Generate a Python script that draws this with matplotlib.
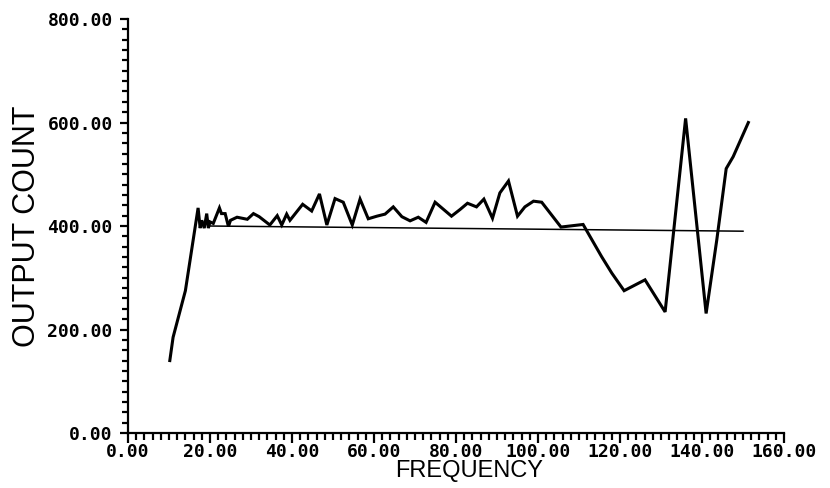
import numpy as np
import matplotlib
matplotlib.use('Agg')
import matplotlib.pyplot as plt
from matplotlib.ticker import MultipleLocator, FormatStrFormatter

freq = [10.2, 11.0, 14.0, 17.1, 17.6, 18.0, 18.6, 19.2, 19.6, 20.0, 20.8, 22.3, 22.8,
        23.7, 24.5, 25.0, 26.6, 29.1, 30.6, 32.0, 34.6, 36.4, 37.5, 38.7, 39.5,
        42.6, 44.8, 46.7, 48.5, 50.5, 52.5, 54.7, 56.6, 58.6, 60.7, 62.7, 64.7,
        66.8, 68.8, 70.8, 72.7, 74.9, 78.9, 81.0, 82.8, 85.0, 86.8, 88.9, 90.7,
        92.8, 95.0, 96.8, 98.9, 100.9, 105.6, 111.0, 115.5, 118.0, 121.0, 126.1,
        131.0, 136.0, 141.0, 143.6, 145.9, 147.6, 151.3]
count = [140, 185, 275, 435, 396, 411, 396, 424, 396, 408, 405, 435, 424,
         424, 399, 411, 417, 413, 424, 418, 402, 420, 402, 423, 411,
         442, 429, 462, 402, 453, 446, 402, 452, 414, 419, 423, 437,
         418, 410, 417, 407, 446, 419, 432, 444, 437, 452, 415, 464,
         487, 419, 437, 448, 446, 398, 403, 341, 309, 275, 296,
         234, 608, 231, 373, 511, 534, 600]

# reference level line
ref_freq = [20.0, 150.0]
ref_count = [400, 390]

fig = plt.figure(figsize=(8.3, 4.88), dpi=100)
ax = fig.add_axes([0.1542, 0.1127, 0.7904, 0.8483])

ax.plot(freq, count, color='black', lw=2.2, solid_joinstyle='miter')
ax.plot(ref_freq, ref_count, color='black', lw=1.1)

ax.set_xlim(0, 160)
ax.set_ylim(0, 800)
ax.spines['top'].set_visible(False)
ax.spines['right'].set_visible(False)
ax.spines['left'].set_linewidth(1.6)
ax.spines['bottom'].set_linewidth(1.6)

ax.xaxis.set_major_locator(MultipleLocator(20))
ax.xaxis.set_minor_locator(MultipleLocator(2))
ax.yaxis.set_major_locator(MultipleLocator(200))
ax.yaxis.set_minor_locator(MultipleLocator(20))
ax.xaxis.set_major_formatter(FormatStrFormatter('%.2f'))
ax.yaxis.set_major_formatter(FormatStrFormatter('%.2f'))

ax.tick_params(axis='x', which='major', direction='out', length=7, width=1.6, pad=0)
ax.tick_params(axis='x', which='minor', direction='out', length=5, width=1.6)
ax.tick_params(axis='y', which='major', direction='out', length=6, width=1.6, pad=5)
ax.tick_params(axis='y', which='minor', direction='out', length=4, width=1.6)

for lab in ax.get_xticklabels() + ax.get_yticklabels():
    lab.set_fontfamily('DejaVu Sans Mono')
    lab.set_fontweight('heavy')
    lab.set_fontsize(13)

ax.set_xlabel('FREQUENCY', fontfamily='Liberation Sans', fontsize=17, labelpad=1)
ax.xaxis.set_label_coords(0.52, -0.065)
ax.set_ylabel('OUTPUT COUNT', fontfamily='Liberation Sans', fontsize=22, labelpad=4)

fig.savefig('out.png', dpi=100)
